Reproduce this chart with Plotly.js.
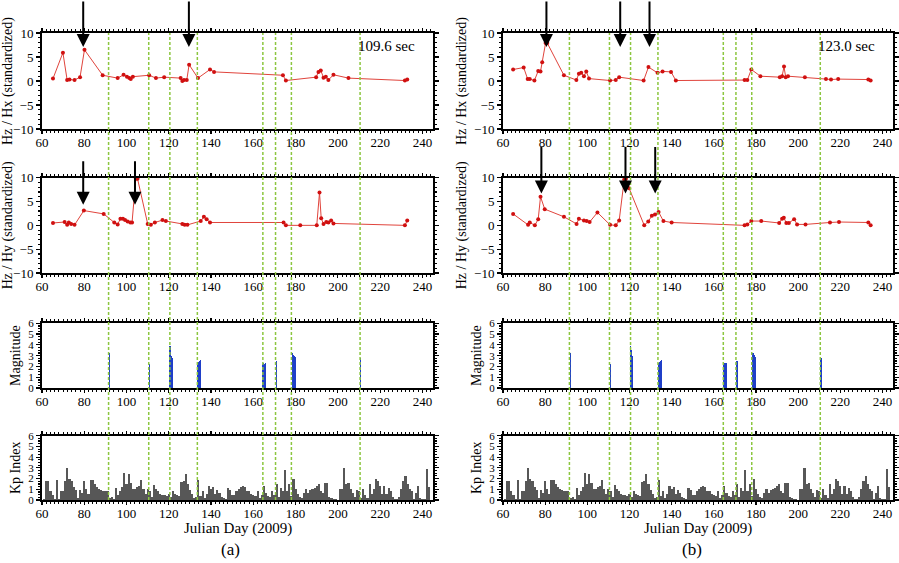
<!DOCTYPE html>
<html>
<head>
<meta charset="utf-8">
<script src="https://cdn.plot.ly/plotly-3.0.1.min.js"></script>
<style>html,body{margin:0;padding:0;background:#fff;}#chart{width:899px;height:563px;}</style>
</head>
<body>
<div id="chart"></div>
<script>
// ---------- DATA ----------
// (a) 109.6 sec
const aHxDays = [65.2,69.9,71.9,73,75.4,78,80.1,88.7,95.8,98.6,100.2,101.3,102,103,110.7,113.9,117.8,125.6,126.4,127.2,128.5,129.6,133.8,139.5,141.4,174,175.4,189.7,190.8,191.9,193.2,194.3,195.5,197.9,205,231.7,232.8];
const aHxVals = [0.5,5.9,0.2,0.3,0.2,0.8,6.5,1.2,0.6,1.3,0.9,0.6,0.4,0.9,1.2,0.6,0.8,0.6,0,0.2,0.2,3.4,0.6,2.4,1.9,1.2,0.1,0.8,1.9,2.2,0.7,0.9,0.2,1.3,0.6,0.1,0.3];
const aHyDays = [65.2,70.7,71.9,72.7,73.8,75.4,79.8,89.2,94.2,95.8,97.1,98.3,99.3,100.5,101.8,102.6,104.4,105.2,110,111.5,113.4,117,118.6,126.4,127.5,128.8,135.1,136.6,137.9,139.5,174.3,175.4,182.2,190,191.3,192.1,193.2,194.5,195.5,196.8,197.9,231.7,232.8];
const aHyVals = [0.5,0.7,0.1,0.6,0.3,0.1,3.1,2.4,0.6,0.2,1.4,1.4,1.1,0.8,0.6,0.6,9.8,9.8,0.3,0.1,0.6,1.1,0.9,0.3,0.1,0.1,0.9,1.8,1.3,0.6,0.6,0,0,0,6.9,1.5,0.3,0.7,0.6,1.0,0.4,0,1.0];
// (b) 123.0 sec
const bHxDays = [64.8,69.8,71.7,72.7,74.9,76.7,77.8,78.6,80.2,81,88.9,94.8,96,97.1,98.4,99.5,100.8,110.8,113.5,115.1,126.7,129,133.3,135.7,139.7,142,174.6,175.9,177.8,182.1,191.3,192.4,193.3,194.1,195.2,203.2,213.2,215.6,219,233.3,234.4];
const bHxVals = [2.4,2.8,0.4,0.4,0.1,2.1,2.0,3.9,7.9,7.9,1.2,0.2,1.5,1.7,1.0,2.0,0.5,0.1,0.2,0.8,0.1,2.9,1.7,2.0,1.9,0.1,0.2,0.2,2.4,1.0,0.8,1.0,3.0,0.8,1.0,0.8,0.4,0.3,0.4,0.3,0.1];
const bHyDays = [64.8,71.9,72.7,75.1,76.7,77.8,79.8,88.9,94.9,96,98.4,99.7,101.1,104.8,110.8,113.5,115.1,117.5,118.3,119.8,127,128.9,130.6,132.1,133.8,136.1,140,174.6,175.9,177.8,182.5,191,192.4,193.2,194.4,195.6,198.1,199.5,203.5,215.1,219.4,233.3,234.4];
const bHyVals = [2.4,0.1,0.6,0,1.3,6.0,3.4,1.8,0.3,1.4,1.0,0.9,0.7,2.7,0.1,0,1.0,9.6,9.8,7.8,0,0.8,2.0,2.3,2.8,0.9,0.6,0,0.2,0.9,0.9,0.5,1.4,1.6,0.5,0.5,1.3,0.2,0.2,0.6,0.7,0.6,0];
// Earthquakes
const eqDays = [91.9,110.9,120.6,120.9,121.2,121.5,133.9,134.3,134.7,135.1,164.5,164.9,165.4,165.8,170.9,178.6,179.0,179.4,179.8,210.8];
const eqMag  = [3.2,2.2,3.9,3.5,3.0,2.8,2.3,2.4,2.5,2.6,2.2,2.3,2.2,2.3,2.5,3.2,3.1,3.0,2.9,2.8];
const eqLineDays = [91.5,110.5,120.5,133.5,164.5,170.5,178,210.5];
// Kp index (daily, starting day 61)
const kpStart = 61;
const kpVals = [0.1,1.8,1.8,0.8,0.5,0.1,1.9,0.1,0.8,0.8,1.8,3.0,2.0,1.8,1.2,0.9,0.2,0.9,0.7,1.8,
1.0,0.6,1.9,1.9,1.5,1.2,1.0,0.9,0.8,0.8,0.8,0.2,0.3,0.1,1.1,0.5,0.8,1.2,2.5,1.5,
2.4,1.6,1.0,1.0,1.2,1.3,1.9,1.0,0.6,1.0,0.8,0.3,1.4,1.0,0.8,0.6,0.5,0.5,0.4,0.6,
0.3,0.8,0.6,0.5,0.4,1.7,1.8,2.4,1.5,0.9,0.6,0.2,0.3,1.9,0.4,0.8,0.2,0.6,1.3,1.0,
1.2,0.6,0.9,0.7,0.3,0.2,0.1,1.1,0.9,0.5,0.5,0.8,1.0,1.2,1.3,1.2,0.8,0.8,0.6,0.5,
0.4,0.8,0.2,0.5,1.3,0.7,0.4,0.3,0.8,0.5,1.5,0.3,1.1,0.8,2.8,0.8,1.5,0.4,2.0,1.0,
0.6,0.3,0.2,0.7,1.0,0.7,0.9,1.0,1.1,1.3,1.5,0.8,0.7,1.6,1.6,0.3,0.2,0.1,0.1,0.0,
1.0,1.0,3.0,1.5,1.6,1.0,0.7,0.3,0.9,0.8,0.2,1.0,0.5,0.2,1.5,0.6,1.0,2.0,1.8,1.3,
0.6,1.3,0.6,1.1,0.8,0.3,0.1,0.1,0.3,1.0,1.8,2.2,1.5,1.0,0.8,0.1,0.7,1.3,0.2,0.1,
0.1,2.9,1.2];
const kpDays = kpVals.map((v,i)=>kpStart+i);
// Arrows (day, tip value)
const aArrows1 = [[79.5,7.1],[129.5,7.1]];
const aArrows2 = [[79.5,4.3],[104,4.3]];
const bArrows1 = [[80.6,7.1],[115.6,7.1],[129.5,7.1]];
const bArrows2 = [[78.2,6.7],[118.1,6.7],[132.2,6.7]];
const periodLabels = ["109.6 sec","123.0 sec"];
const panelLabels = ["(a)","(b)"];
const xTitleText = "Julian Day (2009)";

// ---------- LAYOUT ----------
const W=899,H=563;
const FONT='Liberation Serif, Times New Roman, serif';
const colX=[[42/W,433/W],[503/W,893/W]];
const rowY=[[1-129/H,1-33/H],[1-273/H,1-177.7/H],[1-388/H,1-323.3/H],[1-500/H,1-435.7/H]];

function xax(col,row,anchor){
  return {domain:colX[col],anchor:anchor,range:[60,245],dtick:20,tick0:60,
    showline:true,linewidth:2,linecolor:'black',mirror:'allticks',ticks:'outside',ticklen:3,tickwidth:1.2,tickcolor:'black',
    ticklabelstandoff:-3,
    minor:{dtick:2,ticklen:2,tickwidth:1,tickcolor:'black',ticks:'outside'},
    showgrid:false,zeroline:false,fixedrange:true,
    tickfont:{family:FONT,size:13,color:'black'}};
}
function yax(col,row,anchor,kind){
  const o={domain:rowY[row],anchor:anchor,showline:true,linewidth:2,linecolor:'black',mirror:'allticks',
    ticks:'outside',ticklen:4,tickwidth:1.2,tickcolor:'black',showgrid:false,zeroline:false,fixedrange:true,
    tickfont:{family:FONT,size:13,color:'black'},title:{font:{family:FONT,size:14,color:'black'},standoff:4}};
  if(kind==='ratio'){o.range=[-10,10];o.dtick=5;o.minor={dtick:1,ticklen:2,tickcolor:'black',ticks:'outside'};}
  else {o.range=[0,6];o.dtick=1;o.minor={dtick:0.25,ticklen:2,tickcolor:'black',ticks:'outside'};o.tickfont={family:FONT,size:11,color:'black'};}
  return o;
}

const layout={width:W,height:H,margin:{l:0,r:0,t:0,b:0},paper_bgcolor:'white',plot_bgcolor:'white',
  showlegend:false,bargap:0,barmode:'overlay',font:{family:FONT,color:'black'},annotations:[],shapes:[]};
const ytitles=['Hz / Hx (standardized)','Hz / Hy (standardized)','Magnitude','Kp Index'];
const kinds=['ratio','ratio','mag','kp'];
for(let c=0;c<2;c++){
  for(let r=0;r<4;r++){
    const n=c*4+r+1;
    const xs=n===1?'x':'x'+n, ys=n===1?'y':'y'+n;
    const xk=n===1?'xaxis':'xaxis'+n, yk=n===1?'yaxis':'yaxis'+n;
    layout[xk]=xax(c,r,ys);
    layout[yk]=yax(c,r,xs,kinds[r]);
    layout[yk].title.text=ytitles[r];
  }
}

const traces=[];
function lineTrace(xs,ys,dx,dy){
  return {x:xs,y:ys,xaxis:dx,yaxis:dy,type:'scatter',mode:'lines+markers',
    line:{color:'#e0443c',width:1},marker:{color:'#d01010',size:4},cliponaxis:true,hoverinfo:'skip'};
}
traces.push(lineTrace(aHxDays,aHxVals,'x','y'));
traces.push(lineTrace(aHyDays,aHyVals,'x2','y2'));
traces.push(lineTrace(bHxDays,bHxVals,'x5','y5'));
traces.push(lineTrace(bHyDays,bHyVals,'x6','y6'));
[['x3','y3'],['x7','y7']].forEach(([a,b])=>{
  traces.push({x:eqDays,y:eqMag,xaxis:a,yaxis:b,type:'bar',width:0.7,marker:{color:'#1f3fc8',line:{width:0}},hoverinfo:'skip'});
});
[['x4','y4'],['x8','y8']].forEach(([a,b])=>{
  traces.push({x:kpDays,y:kpVals,xaxis:a,yaxis:b,type:'bar',width:1,marker:{color:'#575757',line:{width:0}},hoverinfo:'skip'});
});

// green dashed earthquake lines spanning all rows
[['x',0],['x5',1]].forEach(([xr,c])=>{
  eqLineDays.forEach(d=>{
    layout.shapes.push({type:'line',xref:xr,yref:'paper',x0:d,x1:d,y0:rowY[3][0],y1:rowY[0][1],
      line:{color:'#8cc63f',width:1.5,dash:'3px,2px'},layer:'above'});
  });
});

// arrows
function addArrows(list,xr,yr,len){
  list.forEach(([d,v])=>{
    layout.annotations.push({x:d,y:v,xref:xr,yref:yr,text:'',showarrow:true,ax:0,ay:-len,
      arrowhead:2,arrowsize:1.3,arrowwidth:2,arrowcolor:'black',standoff:0});
  });
}
addArrows(aArrows1,'x','y',47);
addArrows(aArrows2,'x2','y2',45);
addArrows(bArrows1,'x5','y5',47);
addArrows(bArrows2,'x6','y6',48);

// period labels
[['x domain','y domain',0],['x5 domain','y5 domain',1]].forEach(([xr,yr,i])=>{
  layout.annotations.push({x:0.96,y:0.97,xref:xr,yref:yr,xanchor:'right',yanchor:'top',showarrow:false,
    text:periodLabels[i],font:{family:FONT,size:15,color:'black'}});
});
// x titles under Kp panels
[['x4 domain',0],['x8 domain',1]].forEach(([xr,i])=>{
  layout.annotations.push({x:0.5,y:1-528/H,xref:xr,yref:'paper',xanchor:'center',yanchor:'middle',showarrow:false,
    text:xTitleText,font:{family:FONT,size:15,color:'black'}});
});
// (a) (b)
layout.annotations.push({x:230/W,y:1-549/H,xref:'paper',yref:'paper',xanchor:'center',yanchor:'middle',showarrow:false,text:panelLabels[0],font:{family:FONT,size:17,color:'black'}});
layout.annotations.push({x:692/W,y:1-549/H,xref:'paper',yref:'paper',xanchor:'center',yanchor:'middle',showarrow:false,text:panelLabels[1],font:{family:FONT,size:17,color:'black'}});

Plotly.newPlot('chart',traces,layout,{staticPlot:true,displayModeBar:false});
</script>
</body>
</html>
